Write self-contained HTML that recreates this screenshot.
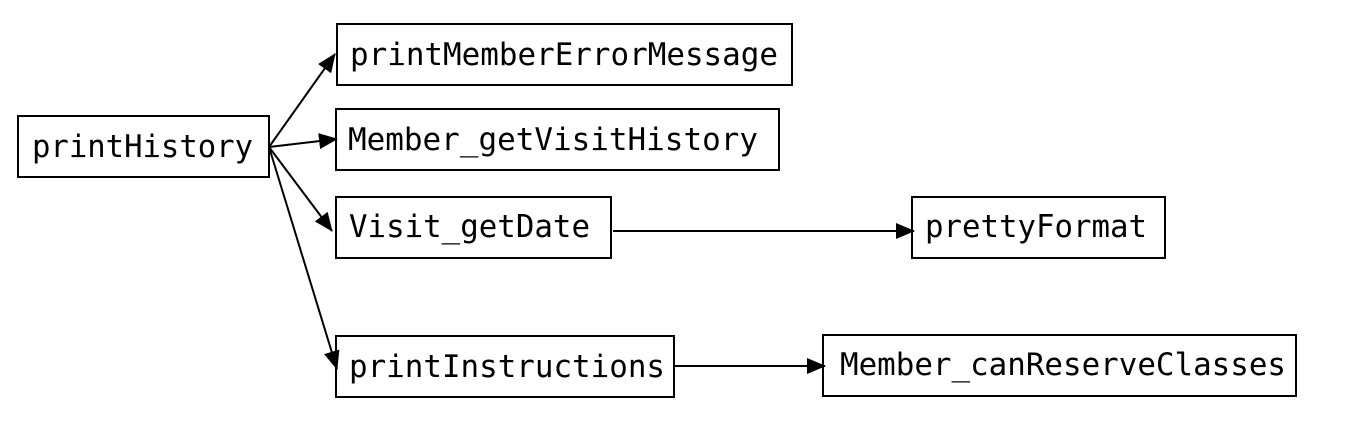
<!DOCTYPE html>
<html><head><meta charset="utf-8"><style>
html,body{margin:0;padding:0;background:#fff;}
svg{display:block;}
text{font-family:"DejaVu Sans Mono","Liberation Mono",monospace;font-size:31px;fill:#000;}
</style></head><body>
<svg width="1350" height="439" viewBox="0 0 1350 439" xmlns="http://www.w3.org/2000/svg">
<defs><marker id="a" markerWidth="19" markerHeight="16" refX="18" refY="8" orient="auto" markerUnits="userSpaceOnUse"><path d="M0,0 L19,8 L0,16 Z" fill="#000"/></marker></defs>
<g fill="none" stroke="#000" stroke-width="2">
<rect x="18" y="116" width="251" height="61"/>
<rect x="337" y="24" width="455" height="61"/>
<rect x="336" y="109" width="443" height="61"/>
<rect x="336" y="197" width="275" height="61"/>
<rect x="912" y="197" width="253" height="61"/>
<rect x="336" y="336" width="338" height="61"/>
<rect x="823" y="335" width="473" height="61"/>
<line x1="269" y1="147" x2="335" y2="54" marker-end="url(#a)"/>
<line x1="269" y1="147" x2="337" y2="139" marker-end="url(#a)"/>
<line x1="269" y1="147" x2="332" y2="231" marker-end="url(#a)"/>
<line x1="269" y1="147" x2="337" y2="369" marker-end="url(#a)"/>
<line x1="613" y1="231" x2="914" y2="231" marker-end="url(#a)"/>
<line x1="674" y1="366" x2="825" y2="366" marker-end="url(#a)"/>
</g>
<text x="32" y="157" textLength="221" lengthAdjust="spacingAndGlyphs">printHistory</text>
<text x="350" y="65" textLength="428" lengthAdjust="spacingAndGlyphs">printMemberErrorMessage</text>
<text x="348" y="150" textLength="410" lengthAdjust="spacingAndGlyphs">Member_getVisitHistory</text>
<text x="349" y="237" textLength="241" lengthAdjust="spacingAndGlyphs">Visit_getDate</text>
<text x="925" y="237" textLength="222" lengthAdjust="spacingAndGlyphs">prettyFormat</text>
<text x="349" y="377" textLength="316" lengthAdjust="spacingAndGlyphs">printInstructions</text>
<text x="840" y="375" textLength="446" lengthAdjust="spacingAndGlyphs">Member_canReserveClasses</text>
</svg>
</body></html>
